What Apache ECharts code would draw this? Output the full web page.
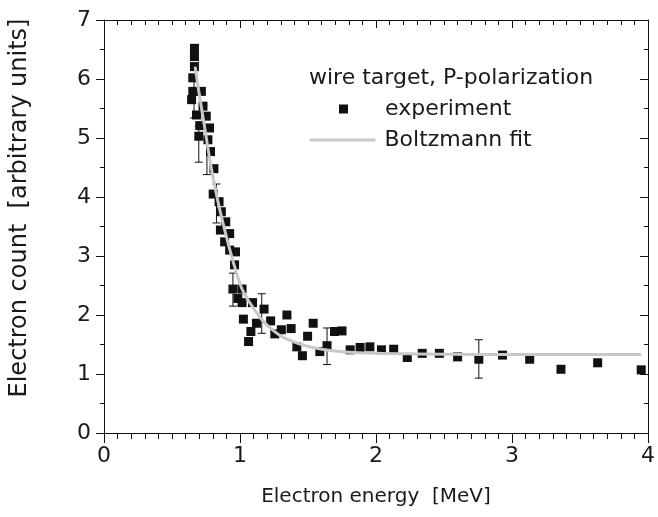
<!DOCTYPE html>
<html>
<head>
<meta charset="utf-8">
<script src="https://cdn.jsdelivr.net/npm/echarts@6/dist/echarts.min.js"></script>
<style>
html,body{margin:0;padding:0;background:#fff;}
#chart{width:658px;height:517px;}
</style>
</head>
<body>
<div id="chart"></div>
<script>
// ---- data ----
const expX = [0.665,0.665,0.665,0.653,0.653,0.716,0.644,0.728,0.68,0.752,0.704,0.776,0.697,0.764,0.783,0.808,0.803,0.846,0.863,0.895,0.856,0.924,0.887,0.924,0.967,0.96,0.948,1.015,0.984,1.015,1.092,1.177,1.025,1.121,1.225,1.345,1.08,1.063,1.256,1.304,1.376,1.418,1.538,1.497,1.459,1.587,1.64,1.695,1.75,1.81,1.883,1.955,2.04,2.13,2.23,2.34,2.466,2.60,2.756,2.93,3.13,3.36,3.63,3.95];
const expY = [6.52,6.38,6.21,6.02,5.79,5.79,5.65,5.54,5.39,5.37,5.21,5.17,5.03,4.97,4.77,4.48,4.05,3.92,3.75,3.58,3.44,3.38,3.24,3.10,3.07,2.85,2.44,2.44,2.28,2.21,2.21,2.10,1.93,1.86,1.90,2.00,1.72,1.55,1.68,1.75,1.77,1.46,1.86,1.64,1.31,1.38,1.48,1.72,1.73,1.41,1.45,1.46,1.41,1.42,1.28,1.35,1.35,1.29,1.25,1.32,1.25,1.08,1.19,1.07];

const errX    = [0.662,0.697,0.757,0.827,0.948,1.16,1.64,2.756];
const errLow  = [5.34,4.59,4.38,3.56,2.15,1.69,1.16,0.93];
const errHigh = [5.96,5.19,4.98,4.22,2.71,2.36,1.78,1.58];

const fitX = [0.67,0.70,0.743,0.779,0.815,0.85,0.90,0.95,1.008,1.05,1.092,1.15,1.213,1.31,1.40,1.55,1.70,1.80,2.00,2.30,2.75,3.30,3.95];
const fitY = [6.21,5.75,5.14,4.62,4.18,3.80,3.33,2.90,2.48,2.29,2.14,1.95,1.80,1.63,1.54,1.44,1.39,1.37,1.35,1.34,1.33,1.33,1.33];

const xTickLabels = ['0','1','2','3','4'];
const yTickLabels = ['0','1','2','3','4','5','6','7'];

const legendTitle = 'wire target, P-polarization';
const seriesNames = ['experiment','Boltzmann fit'];
const xTitle = 'Electron energy  [MeV]';
const yTitle = 'Electron count  [arbitrary units]';

// ---- build ----
const FONT = 'DejaVu Sans';
const TXT = '#1a1a1a';
const AX = '#111';

const expData = expX.map((x,i)=>[x, expY[i]]);
const errData = errX.map((x,i)=>[x, errLow[i], errHigh[i]]);
const fitData = fitX.map((x,i)=>[x, fitY[i]]);

function errRender(params, api){
  const x = api.value(0), lo = api.value(1), hi = api.value(2);
  const a = api.coord([x, lo]), b = api.coord([x, hi]);
  const w = 4;
  const st = {stroke: AX, lineWidth: 1};
  return {type:'group', children:[
    {type:'line', shape:{x1:a[0],y1:a[1],x2:b[0],y2:b[1]}, style:st},
    {type:'line', shape:{x1:a[0]-w,y1:a[1],x2:a[0]+w,y2:a[1]}, style:st},
    {type:'line', shape:{x1:b[0]-w,y1:b[1],x2:b[0]+w,y2:b[1]}, style:st}
  ]};
}

const axLine = {show:true, onZero:false, lineStyle:{color:AX, width:1}};
const labelStyle = {fontFamily:FONT, fontSize:22, color:TXT};

const chart = echarts.init(document.getElementById('chart'), null, {renderer:'canvas'});
chart.setOption({
  animation:false,
  backgroundColor:'#fff',
  title:{
    text: legendTitle, left:309, top:67, padding:0,
    textStyle:{fontFamily:FONT, fontSize:22, fontWeight:'normal', color:TXT}
  },
  legend:[
    {
      data:[{name:seriesNames[0], icon:'rect'}],
      left:339, top:98, padding:0,
      itemWidth:9, itemHeight:9,
      textStyle:{fontFamily:FONT, fontSize:22, color:TXT, padding:[0,0,0,32]}
    },
    {
      data:[{name:seriesNames[1], itemStyle:{opacity:0}}],
      left:308, top:129, padding:0,
      itemWidth:66, itemHeight:12,
      itemStyle:{opacity:0},
      lineStyle:{color:'#c8c8c8', width:3},
      textStyle:{fontFamily:FONT, fontSize:22, color:TXT, padding:[0,0,0,4]}
    }
  ],
  grid:{left:99, right:6, top:20, bottom:84, containLabel:false},
  xAxis:[
    {
      type:'value', min:0, max:4, interval:1, position:'bottom',
      axisLine:axLine,
      axisTick:{show:true, inside:false, length:10, lineStyle:{color:AX}},
      minorTick:{show:true, splitNumber:10, length:6, lineStyle:{color:AX}},
      splitLine:{show:false}, minorSplitLine:{show:false},
      axisLabel:Object.assign({margin:12, formatter:v=>xTickLabels[Math.round(v)]}, labelStyle),
      name:xTitle, nameLocation:'middle', nameGap:54,
      nameTextStyle:{fontFamily:FONT, fontSize:20, color:TXT}
    },
    {
      type:'value', min:0, max:4, interval:1, position:'top',
      axisLine:axLine,
      axisTick:{show:true, inside:true, length:8, lineStyle:{color:AX}},
      minorTick:{show:true, splitNumber:10, length:5, lineStyle:{color:AX}},
      splitLine:{show:false}, axisLabel:{show:false}
    }
  ],
  yAxis:[
    {
      type:'value', min:0, max:7, interval:1, position:'left',
      axisLine:axLine,
      axisTick:{show:true, inside:false, length:8, lineStyle:{color:AX}},
      minorTick:{show:true, splitNumber:2, length:4, lineStyle:{color:AX}},
      splitLine:{show:false},
      axisLabel:Object.assign({margin:13, formatter:v=>yTickLabels[Math.round(v)]}, labelStyle),
      name:yTitle, nameLocation:'middle', nameGap:72,
      nameTextStyle:{fontFamily:FONT, fontSize:24, color:TXT, padding:[0,0,0,37]}
    },
    {
      type:'value', min:0, max:7, interval:1, position:'right',
      axisLine:axLine,
      axisTick:{show:true, inside:true, length:8, lineStyle:{color:AX}},
      minorTick:{show:true, splitNumber:2, length:4, lineStyle:{color:AX}},
      splitLine:{show:false}, axisLabel:{show:false}
    }
  ],
  series:[
    {
      type:'custom', name:'errors', renderItem:errRender, data:errData,
      encode:{x:0, y:[1,2]}, z:1, silent:true
    },
    {
      type:'scatter', name:seriesNames[0], data:expData,
      symbol:'rect', symbolSize:9,
      itemStyle:{color:'#111', opacity:1}, z:2
    },
    {
      type:'line', name:seriesNames[1], data:fitData,
      showSymbol:false, symbol:'none', smooth:0.3,
      lineStyle:{color:'#c8c8c8', width:3},
      itemStyle:{color:'#c8c8c8'}, z:3
    }
  ]
});
</script>
</body>
</html>
